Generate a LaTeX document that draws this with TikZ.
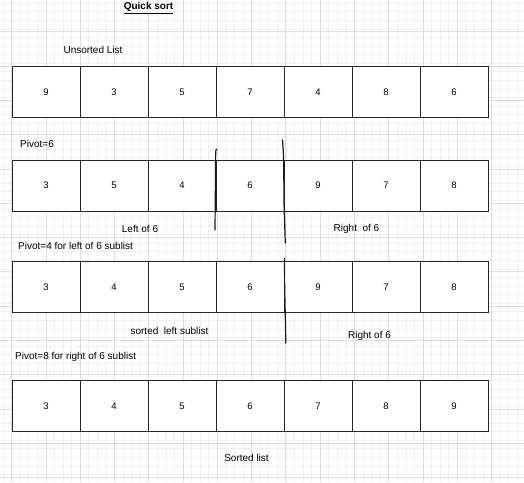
\documentclass[tikz,border=0pt]{standalone}
\usepackage{fontspec}
\setmainfont{Liberation Sans}
\usetikzlibrary{positioning}

\begin{document}
\begin{tikzpicture}[x=1pt,y=-1pt]
	\path [use as bounding box] (0,0) rectangle (524,482);
	\tikzstyle{cell} = [draw=black!85, fill=white, line width=1pt, outer sep=0pt, minimum width=68pt, minimum height=51pt, inner sep=0pt, font=\fontsize{9.5}{11}\selectfont]
	\tikzstyle{txt} = [font=\fontsize{10}{12}\selectfont, inner sep=0pt]
	\tikzstyle{minor} = [black!6, line width=0.7pt]
	\tikzstyle{major} = [black!13, line width=0.9pt]
	\tikzstyle{stroke} = [black!90, line width=1.2pt, line cap=round]
	% grid
	\foreach \i in {0,...,61} {
		\draw[minor] (3.13+8.57*\i,0) -- (3.13+8.57*\i,482);
		\draw[minor] (0,3.2+8.57*\i) -- (524,3.2+8.57*\i);
	}
	\foreach \i in {0,...,15} {
		\draw[major] (11.7+34.28*\i,0) -- (11.7+34.28*\i,482);
		\draw[major] (0,-2.4+34.28*\i) -- (524,-2.4+34.28*\i);
	}
	% rows
	\foreach \v [count=\k] in {9,3,5,7,4,8,6}
		\node[cell] (a\k) at (-22+68*\k,92) {\v};
	\foreach \v [count=\k] in {3,5,4,6,9,7,8}
		\node[cell] (b\k) at (-22+68*\k,185.5) {\v};
	\foreach \v [count=\k] in {3,4,5,6,9,7,8}
		\node[cell] (c\k) at (-22+68*\k,287.2) {\v};
	\foreach \v [count=\k] in {3,4,5,6,7,8,9}
		\node[cell] (d\k) at (-22+68*\k,406) {\v};
	% labels
	\node[txt, font=\fontsize{10}{12}\selectfont\bfseries] (title) at (148.5,8) {\underline{Quick sort}};
	\node[txt] (unsorted) at (93,50) {Unsorted List};
	\node[txt, anchor=west] (pivot6) at (20,144) {Pivot=6};
	\node[txt] (left6) at (140,229) {Left of 6};
	\node[txt] (right6) at (356.5,229) {Right\ \ of 6};
	\node[txt, anchor=west] (pivot4) at (18,246) {Pivot=4 for left of 6 sublist};
	\node[txt] (sortedleft) at (169.5,331) {sorted\ \ left sublist};
	\node[txt] (rightsub) at (369.5,336) {Right of 6};
	\node[txt, anchor=west] (pivot8) at (15,357) {Pivot=8 for right of 6 sublist};
	\node[txt] (sorted) at (246.5,458) {Sorted list};
	% freehand marks
	\draw[stroke] plot[smooth] coordinates {(216.8,149.5) (215.7,152.8) (215.4,185) (215,230)};
	\draw[stroke] plot[smooth] coordinates {(282.5,140) (283.6,160) (284,200) (284.4,216) (285.3,243)};
	\draw[stroke] plot[smooth] coordinates {(284.5,258.5) (284.7,290) (285,302) (285.8,343)};
\end{tikzpicture}
\end{document}
